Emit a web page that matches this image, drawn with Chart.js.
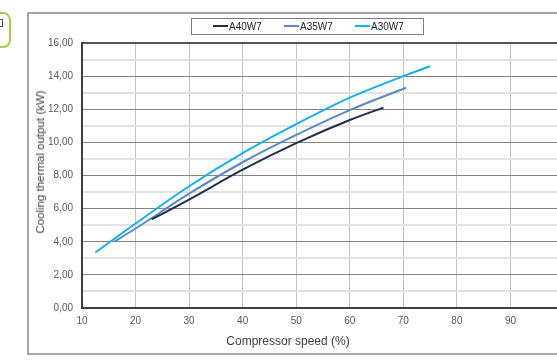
<!DOCTYPE html>
<html>
<head>
<meta charset="utf-8">
<script src="https://cdn.jsdelivr.net/npm/chart.js@4/dist/chart.umd.min.js"></script>
<style>
  html, body { margin: 0; padding: 0; background: #fff; overflow: hidden; }
  #wrap { position: relative; width: 557px; height: 360px; overflow: hidden; font-family: Arial, "Liberation Sans", sans-serif; }
  #frame { position: absolute; left: 27px; top: 12px; width: 600px; height: 343px; border: 2px solid #a6a6a6; box-sizing: border-box; }
  #green { position: absolute; left: -10px; top: 12px; width: 21px; height: 36px; border: 2px solid #a3cf4a; border-radius: 8px; box-sizing: border-box; }
  #sq { position: absolute; left: -5px; top: 19px; width: 8px; height: 8px; border: 1px solid #555; box-sizing: border-box; }
  #cv { position: absolute; left: 0; top: 0; }
  #legend { position: absolute; left: 191px; top: 18px; width: 233px; height: 17px; border: 1px solid #7f7f7f; box-sizing: border-box; font-size: 10px; color: #262626; }
  .li { position: absolute; top: 2px; line-height: 12px; white-space: nowrap; }
  .sw { display: inline-block; width: 15px; height: 2px; vertical-align: middle; margin-right: 1px; position: relative; top: -1px; }
  #xt { position: absolute; left: 188px; top: 334px; width: 200px; text-align: center; font-size: 12px; color: #404040; }
  #yt { position: absolute; left: 40px; top: 162px; transform: translate(-50%, -50%) rotate(-90deg); font-size: 11.5px; color: #404040; white-space: nowrap; }
</style>
</head>
<body>
<div id="wrap">
  <div id="frame"></div>
  <div id="green"></div>
  <div id="sq"></div>
  <canvas id="cv" width="600" height="360" style="width:600px;height:360px"></canvas>
  <div id="legend"></div>
  <div id="xt">Compressor speed (%)</div>
  <div id="yt">Cooling thermal output (kW)</div>
</div>
<script>
// ---- data ----
const seriesNames = ["A40W7", "A35W7", "A30W7"];
const seriesColors = ["#1f2f4d", "#5b89c8", "#12b2ee"];
const a40Speed = [23, 30, 40, 50, 60, 66.3];
const a40Output = [5.35, 6.55, 8.35, 9.95, 11.35, 12.1];
const a35Speed = [16, 20, 30, 40, 50, 60, 70.5];
const a35Output = [4.0, 4.8, 6.9, 8.8, 10.45, 11.95, 13.3];
const a30Speed = [12.5, 20, 30, 40, 50, 60, 70, 75];
const a30Output = [3.35, 5.1, 7.35, 9.35, 11.1, 12.7, 14.0, 14.6];
const xTicks = [10, 20, 30, 40, 50, 60, 70, 80, 90, 100];
const xTickLabels = ["10", "20", "30", "40", "50", "60", "70", "80", "90", ""];
const yMajorTicks = [0, 2, 4, 6, 8, 10, 12, 14, 16];

function pts(xs, ys) { return xs.map((x, i) => ({ x: x, y: ys[i] })); }
const seriesData = [pts(a40Speed, a40Output), pts(a35Speed, a35Output), pts(a30Speed, a30Output)];

// legend (HTML)
const lg = document.getElementById('legend');
seriesNames.forEach((n, i) => {
  const d = document.createElement('div');
  d.className = 'li';
  d.style.left = (21 + i * 71) + 'px';
  d.innerHTML = '<span class="sw" style="background:' + seriesColors[i] + '"></span>' + n;
  lg.appendChild(d);
});

const fmt = v => v.toFixed(2).replace('.', ',');

new Chart(document.getElementById('cv'), {
  type: 'scatter',
  data: {
    datasets: seriesNames.map((n, i) => ({
      label: n,
      data: seriesData[i],
      showLine: true,
      borderColor: seriesColors[i],
      backgroundColor: seriesColors[i],
      borderWidth: 2,
      pointRadius: 0,
      cubicInterpolationMode: 'monotone',
      fill: false
    }))
  },
  options: {
    responsive: false,
    animation: false,
    devicePixelRatio: 1,
    layout: { padding: { left: 0, top: 43, right: 36, bottom: 0 } },
    plugins: { legend: { display: false }, tooltip: { enabled: false } },
    scales: {
      x: {
        type: 'linear', min: 10, max: 100,
        afterFit: s => { s.height = 52; },
        afterBuildTicks: s => { s.ticks = xTicks.map(v => ({ value: v })); },
        border: { color: '#3f3f3f', width: 2 },
        grid: { color: '#c4c4c4', lineWidth: 1, drawTicks: false },
        ticks: { color: '#595959', font: { size: 10, family: 'Arial' }, padding: 7, maxRotation: 0,
          callback: v => { const i = xTicks.indexOf(v); return i >= 0 ? xTickLabels[i] : ''; } }
      },
      y: {
        type: 'linear', min: 0, max: 16,
        afterFit: s => { s.width = 82; },
        afterBuildTicks: s => {
          const t = [];
          for (let i = 0; i <= 32; i++) t.push({ value: i * 0.5 });
          s.ticks = t;
        },
        border: { color: '#3f3f3f', width: 2 },
        grid: {
          drawTicks: false,
          color: ctx => {
            const v = ctx.tick ? ctx.tick.value : 0;
            if (v === 16) return '#555555';
            return yMajorTicks.includes(v) ? '#858585' : '#e3e3e3';
          },
          lineWidth: ctx => {
            const v = ctx.tick ? ctx.tick.value : 0;
            if (v === 16) return 2;
            return yMajorTicks.includes(v) ? 1 : 2;
          }
        },
        ticks: {
          color: '#595959', font: { size: 10, family: 'Arial' }, padding: 9,
          callback: v => yMajorTicks.includes(v) ? fmt(v) : ''
        }
      }
    }
  }
});
</script>
</body>
</html>
